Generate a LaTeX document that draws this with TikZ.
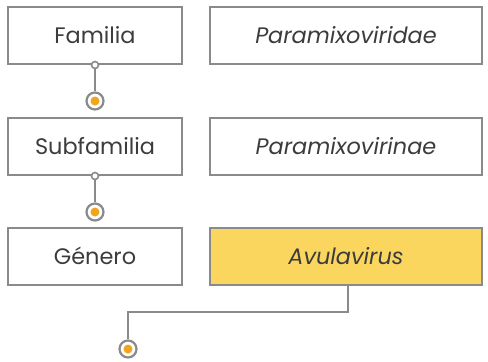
\documentclass[tikz,border=0pt]{standalone}
\usepackage{fontspec}
\setmainfont{Poppins}
\definecolor{frame}{HTML}{8A8A8A}
\definecolor{dot}{HTML}{F0A51C}
\definecolor{fillyellow}{HTML}{FBD65E}
\definecolor{txt}{HTML}{3C3C3C}
\begin{document}
\begin{tikzpicture}[x=1bp,y=-1bp,
  box/.style={draw=frame,line width=2bp,inner sep=0pt,text=txt,font=\fontsize{22.5}{26}\selectfont},
  lbox/.style={box,minimum width=174bp,minimum height=57bp},
  rbox/.style={box,minimum width=272bp,minimum height=57bp,font=\fontsize{22.5}{26}\selectfont\itshape},
  conn/.style={draw=frame,line width=2bp},
  smallring/.style={circle,draw=frame,line width=1.6bp,fill=white,minimum size=7bp,inner sep=0pt},
  bigring/.style={circle,draw=frame,line width=2.2bp,fill=white,minimum size=17bp,inner sep=0pt},
  coredot/.style={circle,fill=dot,minimum size=9bp,inner sep=0pt}]
\useasboundingbox (0,0) rectangle (488,361);
\node[lbox] (fam) at (95,35.5) {Familia};
\node[rbox] (famv) at (346,35.5) {Paramixoviridae};
\node[lbox] (sub) at (95,146.5) {Subfamilia};
\node[rbox] (subv) at (346,146.5) {Paramixovirinae};
\node[lbox] (gen) at (95,256) {Género};
\node[rbox,fill=fillyellow] (genv) at (346,256) {Avulavirus};
% connector 1
\node[bigring] (r1) at (95,101) {};
\node[coredot] at (r1) {};
\draw[conn] (fam.south) -- (r1.north);
\node[smallring] at (fam.south) {};
% connector 2
\node[bigring] (r2) at (95,212) {};
\node[coredot] at (r2) {};
\draw[conn] (sub.south) -- (r2.north);
\node[smallring] at (sub.south) {};
% connector 3
\coordinate (c3a) at (348,312);
\coordinate (c3b) at (128,312);
\node[bigring] (r3) at (128,349) {};
\node[coredot] at (r3) {};
\draw[conn] (genv.south -| c3a) -- (c3a) -- (c3b) -- (r3.north);
\end{tikzpicture}
\end{document}
